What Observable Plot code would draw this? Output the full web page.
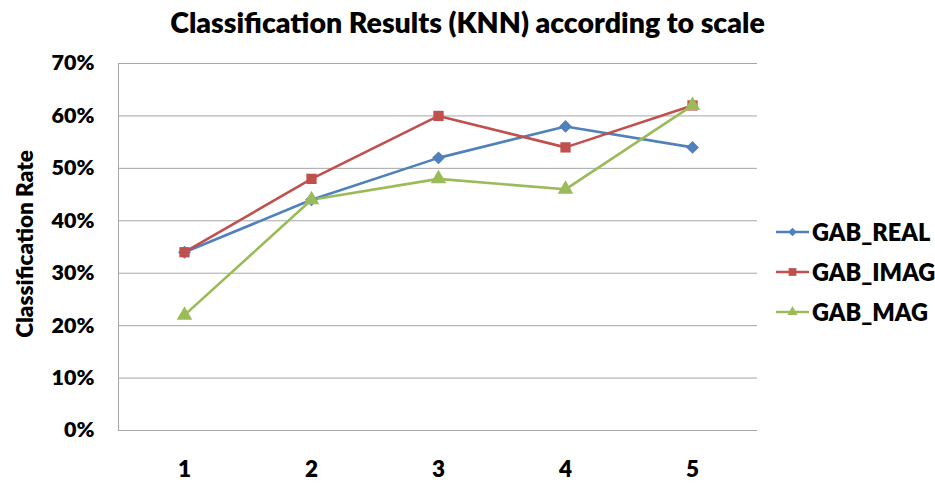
<!DOCTYPE html>
<html>
<head>
<meta charset="utf-8">
<script src="https://cdn.jsdelivr.net/npm/d3@7"></script>
<script src="https://cdn.jsdelivr.net/npm/@observablehq/plot@0.6"></script>
<style>
  body { margin: 0; background: #fff; }
  #wrap { position: relative; width: 935px; height: 487px; font-family: Lato, "Open Sans", sans-serif; }
  #title { height: 46px; line-height: 44px; text-align: center; font-weight: 800; font-size: 28.5px; color: #000; }
  #legend { position: absolute; left: 776px; top: 212px; }
  .item { display: flex; align-items: center; height: 40px; font-weight: 800; font-size: 23.5px; color: #000; }
  .item svg { margin-right: 3px; }
</style>
</head>
<body>
<div id="wrap">
  <div id="title">Classification Results (KNN) according to scale</div>
  <div id="chart"></div>
  <div id="legend"></div>
</div>
<script>
const scales = ["1", "2", "3", "4", "5"];
const seriesNames = ["GAB_REAL", "GAB_IMAG", "GAB_MAG"];
const gabReal = [0.34, 0.44, 0.52, 0.58, 0.54];
const gabImag = [0.34, 0.48, 0.60, 0.54, 0.62];
const gabMag  = [0.22, 0.44, 0.48, 0.46, 0.62];
const yTicks = [0, 0.1, 0.2, 0.3, 0.4, 0.5, 0.6, 0.7];
const colors = ["#4F81BD", "#C0504D", "#9BBB59"];
const symbols = ["diamond2", "square", "triangle"];

const seriesValues = [gabReal, gabImag, gabMag];
const data = seriesNames.flatMap((s, i) => scales.map((c, j) => ({series: s, scale: c, value: seriesValues[i][j]})));

const chart = Plot.plot({
  width: 935,
  height: 441,
  marginTop: 17,
  marginBottom: 57,
  marginLeft: 118,
  marginRight: 178,
  style: {fontFamily: "Lato, 'Open Sans', sans-serif", fontWeight: "800", fontSize: "22px", color: "#000", background: "#fff"},
  x: {type: "point", domain: scales, padding: 0.5, label: null},
  y: {domain: [0, 0.7], ticks: yTicks, tickFormat: d3.format(".0%"), label: null},
  color: {domain: seriesNames, range: colors},
  symbol: {domain: seriesNames, range: symbols},
  marks: [
    Plot.ruleY(yTicks, {stroke: "#a6a6a6", strokeWidth: 1}),
    Plot.frame({anchor: "left", stroke: "#a6a6a6"}),
    Plot.line(data, {x: "scale", y: "value", z: "series", stroke: "series", strokeWidth: 2.6}),
    Plot.dot(data, {x: "scale", y: "value", symbol: "series", fill: "series", r: 5.8, stroke: null}),
    Plot.axisX({tickSize: 0, tickPadding: 31, fontSize: 22.5}),
    Plot.axisY({tickSize: 0, tickPadding: 24, tickFormat: d3.format(".0%"), ticks: yTicks, fontSize: 21.5}),
    Plot.text(["Classification Rate"], {frameAnchor: "left", dx: -93, dy: -3, rotate: -90, textAnchor: "middle", fontSize: 22.5, fontWeight: "800", fill: "#000"})
  ]
});
document.getElementById("chart").appendChild(chart);

const legend = document.getElementById("legend");
seriesNames.forEach((s, i) => {
  const item = document.createElement("div");
  item.className = "item";
  const sw = d3.create("svg").attr("width", 33).attr("height", 14);
  sw.append("line").attr("x1", 0).attr("x2", 33).attr("y1", 7).attr("y2", 7).attr("stroke", colors[i]).attr("stroke-width", 2.5);
  sw.append("path").attr("transform", "translate(16.5,7)").attr("fill", colors[i])
    .attr("d", d3.symbol(i === 0 ? d3.symbolDiamond2 : i === 1 ? d3.symbolSquare : d3.symbolTriangle, i === 1 ? 60 : 45)());
  item.appendChild(sw.node());
  const t = document.createElement("span");
  t.textContent = s;
  item.appendChild(t);
  legend.appendChild(item);
});
</script>
</body>
</html>
